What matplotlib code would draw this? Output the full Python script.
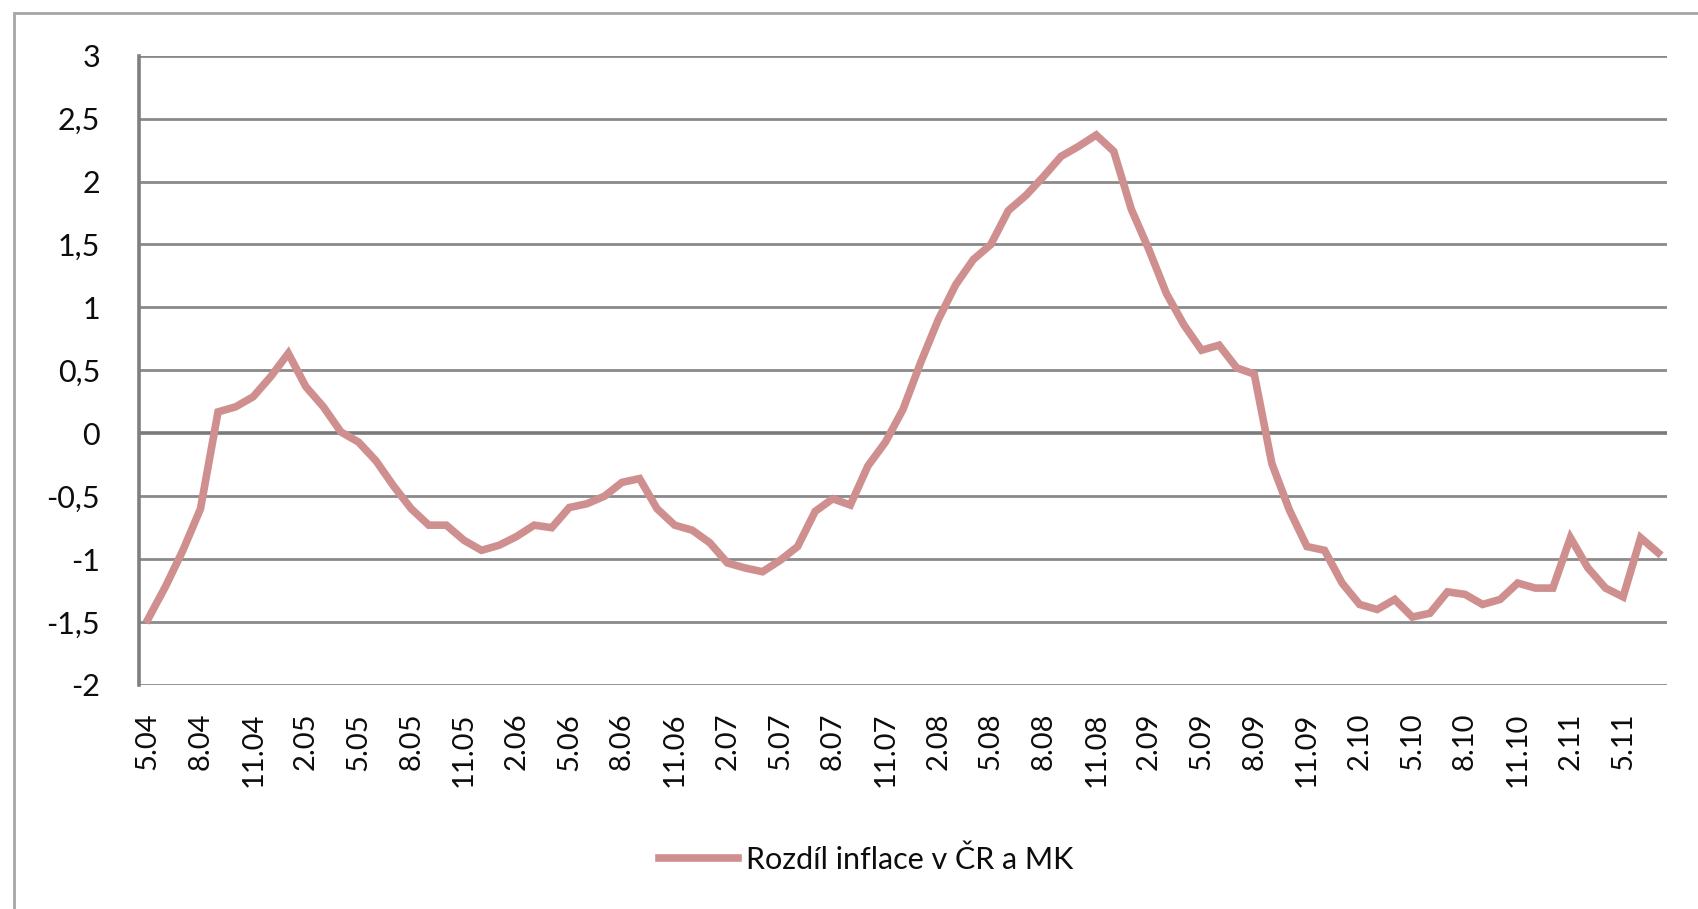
import numpy as np
import matplotlib
matplotlib.use("Agg")
import matplotlib.pyplot as plt
from matplotlib.patches import Rectangle

plt.rcParams['font.family'] = ['Lato', 'DejaVu Sans']

# Rozdíl inflace v ČR a MK, měsíčně 5.04 - 7.11
rozdil = [
    -1.48, -1.22, -0.93, -0.60, 0.17, 0.21, 0.29, 0.45, 0.635, 0.37,
    0.21, 0.01, -0.07, -0.22, -0.42, -0.60, -0.73, -0.73, -0.85, -0.93,
    -0.89, -0.82, -0.73, -0.75, -0.59, -0.56, -0.50, -0.39, -0.36, -0.60,
    -0.73, -0.77, -0.87, -1.03, -1.07, -1.10, -1.01, -0.90, -0.62, -0.52,
    -0.57, -0.26, -0.07, 0.19, 0.56, 0.90, 1.18, 1.38, 1.50, 1.77,
    1.89, 2.04, 2.20, 2.28, 2.37, 2.24, 1.78, 1.46, 1.11, 0.86,
    0.66, 0.70, 0.52, 0.47, -0.24, -0.61, -0.90, -0.93, -1.19, -1.36,
    -1.40, -1.32, -1.46, -1.43, -1.26, -1.28, -1.36, -1.32, -1.19, -1.23,
    -1.23, -0.83, -1.07, -1.23, -1.30, -0.83, -0.95,
]

popisky = ['5.04', '8.04', '11.04', '2.05', '5.05', '8.05', '11.05', '2.06',
           '5.06', '8.06', '11.06', '2.07', '5.07', '8.07', '11.07', '2.08',
           '5.08', '8.08', '11.08', '2.09', '5.09', '8.09', '11.09', '2.10',
           '5.10', '8.10', '11.10', '2.11', '5.11']

barva = '#cf8f8f'
seda = '#8a8a8a'

fig = plt.figure(figsize=(16.98, 9.09), dpi=100)
ax = fig.add_axes([139 / 1698, 1 - 685 / 909, (1667 - 139) / 1698, (685 - 55.7) / 909])

# vnější rámeček grafu
fig.patches.append(Rectangle((14 / 1698, -0.1), 1.2, 1 - 13 / 909 + 0.1,
                             transform=fig.transFigure, fill=False,
                             edgecolor='#a6a6a6', linewidth=2))

x = np.arange(len(rozdil))
ax.set_xlim(-0.5, len(rozdil) - 0.5)
ax.set_ylim(-2, 3)
ax.set_yticks(np.arange(-2, 3.01, 0.5))
ax.set_yticklabels(['-2', '-1,5', '-1', '-0,5', '0', '0,5', '1', '1,5', '2', '2,5', '3'])
ax.set_xticks(np.arange(0, len(rozdil), 3))
ax.set_xticklabels(popisky, rotation=90)

for v in np.arange(-2, 3.01, 0.5):
    if v == 0:
        continue
    ax.axhline(v, color=seda, linewidth=2.0, zorder=1)
ax.axhline(0, color='#7a7a7a', linewidth=2.6, zorder=1)

for s in ['top', 'right', 'bottom']:
    ax.spines[s].set_visible(False)
ax.spines['left'].set_color('#7f7f7f')
ax.spines['left'].set_linewidth(2.6)

ax.tick_params(axis='y', length=0, pad=28, labelsize=22, labelcolor='#0d0d0d')
ax.tick_params(axis='x', length=0, pad=20, labelsize=21, labelcolor='#0d0d0d')

ax.plot(x, rozdil, color=barva, linewidth=5.5, solid_joinstyle='miter',
        label='Rozdíl inflace v ČR a MK', zorder=3)

fig.legend(loc='center', bbox_to_anchor=(0.51, 0.054), frameon=False,
           fontsize=22, handlelength=2.6, handletextpad=0.25,
           labelcolor='#0d0d0d')

plt.savefig('out.png', dpi=100)
